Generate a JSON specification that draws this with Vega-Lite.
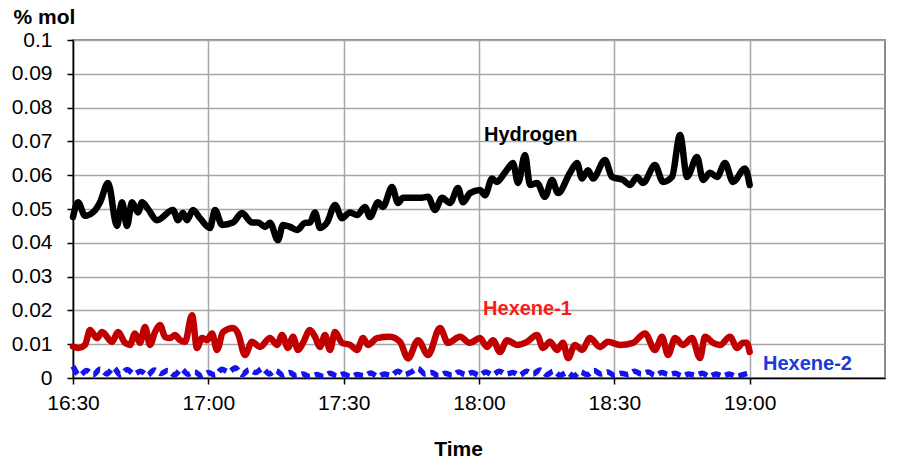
{
  "$schema": "https://vega.github.io/schema/vega-lite/v6.json",
  "width": 812,
  "height": 338,
  "autosize": {"type": "none"},
  "padding": {"left": 73, "top": 40, "right": 22, "bottom": 84},
  "background": "white",
  "config": {
    "font": "Liberation Sans",
    "view": {"stroke": "#8c8c8c", "strokeWidth": 2},
    "axis": {"labelFont": "Liberation Sans", "titleFont": "Liberation Sans"}
  },
  "datasets": {
    "series": [
      {"series": "Hydrogen", "time": "2000-01-01T16:30:00", "value": 0.0476},
      {"series": "Hydrogen", "time": "2000-01-01T16:31:07", "value": 0.052},
      {"series": "Hydrogen", "time": "2000-01-01T16:32:40", "value": 0.048},
      {"series": "Hydrogen", "time": "2000-01-01T16:34:26", "value": 0.049},
      {"series": "Hydrogen", "time": "2000-01-01T16:36:00", "value": 0.052},
      {"series": "Hydrogen", "time": "2000-01-01T16:37:46", "value": 0.0577},
      {"series": "Hydrogen", "time": "2000-01-01T16:39:45", "value": 0.045},
      {"series": "Hydrogen", "time": "2000-01-01T16:40:52", "value": 0.052},
      {"series": "Hydrogen", "time": "2000-01-01T16:41:58", "value": 0.045},
      {"series": "Hydrogen", "time": "2000-01-01T16:43:05", "value": 0.052},
      {"series": "Hydrogen", "time": "2000-01-01T16:44:25", "value": 0.049},
      {"series": "Hydrogen", "time": "2000-01-01T16:45:18", "value": 0.052},
      {"series": "Hydrogen", "time": "2000-01-01T16:46:38", "value": 0.050},
      {"series": "Hydrogen", "time": "2000-01-01T16:48:37", "value": 0.0467},
      {"series": "Hydrogen", "time": "2000-01-01T16:52:10", "value": 0.0497},
      {"series": "Hydrogen", "time": "2000-01-01T16:53:17", "value": 0.0467},
      {"series": "Hydrogen", "time": "2000-01-01T16:54:23", "value": 0.0488},
      {"series": "Hydrogen", "time": "2000-01-01T16:55:16", "value": 0.0467},
      {"series": "Hydrogen", "time": "2000-01-01T16:56:36", "value": 0.0497},
      {"series": "Hydrogen", "time": "2000-01-01T16:58:09", "value": 0.0473},
      {"series": "Hydrogen", "time": "2000-01-01T17:00:22", "value": 0.0444},
      {"series": "Hydrogen", "time": "2000-01-01T17:01:29", "value": 0.0497},
      {"series": "Hydrogen", "time": "2000-01-01T17:03:02", "value": 0.0453},
      {"series": "Hydrogen", "time": "2000-01-01T17:05:28", "value": 0.046},
      {"series": "Hydrogen", "time": "2000-01-01T17:07:28", "value": 0.0488},
      {"series": "Hydrogen", "time": "2000-01-01T17:09:41", "value": 0.046},
      {"series": "Hydrogen", "time": "2000-01-01T17:11:01", "value": 0.046},
      {"series": "Hydrogen", "time": "2000-01-01T17:12:34", "value": 0.0447},
      {"series": "Hydrogen", "time": "2000-01-01T17:13:40", "value": 0.0459},
      {"series": "Hydrogen", "time": "2000-01-01T17:15:26", "value": 0.0408},
      {"series": "Hydrogen", "time": "2000-01-01T17:16:33", "value": 0.0453},
      {"series": "Hydrogen", "time": "2000-01-01T17:18:06", "value": 0.0447},
      {"series": "Hydrogen", "time": "2000-01-01T17:19:40", "value": 0.0438},
      {"series": "Hydrogen", "time": "2000-01-01T17:21:26", "value": 0.0459},
      {"series": "Hydrogen", "time": "2000-01-01T17:22:32", "value": 0.046},
      {"series": "Hydrogen", "time": "2000-01-01T17:23:39", "value": 0.049},
      {"series": "Hydrogen", "time": "2000-01-01T17:24:45", "value": 0.0444},
      {"series": "Hydrogen", "time": "2000-01-01T17:26:19", "value": 0.046},
      {"series": "Hydrogen", "time": "2000-01-01T17:28:05", "value": 0.0512},
      {"series": "Hydrogen", "time": "2000-01-01T17:29:38", "value": 0.0473},
      {"series": "Hydrogen", "time": "2000-01-01T17:31:24", "value": 0.049},
      {"series": "Hydrogen", "time": "2000-01-01T17:32:58", "value": 0.0482},
      {"series": "Hydrogen", "time": "2000-01-01T17:34:44", "value": 0.0506},
      {"series": "Hydrogen", "time": "2000-01-01T17:35:50", "value": 0.0476},
      {"series": "Hydrogen", "time": "2000-01-01T17:37:37", "value": 0.052},
      {"series": "Hydrogen", "time": "2000-01-01T17:38:43", "value": 0.0506},
      {"series": "Hydrogen", "time": "2000-01-01T17:40:43", "value": 0.0565},
      {"series": "Hydrogen", "time": "2000-01-01T17:42:03", "value": 0.0518},
      {"series": "Hydrogen", "time": "2000-01-01T17:43:09", "value": 0.0533},
      {"series": "Hydrogen", "time": "2000-01-01T17:46:55", "value": 0.0533},
      {"series": "Hydrogen", "time": "2000-01-01T17:48:42", "value": 0.0536},
      {"series": "Hydrogen", "time": "2000-01-01T17:50:15", "value": 0.0497},
      {"series": "Hydrogen", "time": "2000-01-01T17:51:48", "value": 0.0533},
      {"series": "Hydrogen", "time": "2000-01-01T17:53:34", "value": 0.0518},
      {"series": "Hydrogen", "time": "2000-01-01T17:55:21", "value": 0.0562},
      {"series": "Hydrogen", "time": "2000-01-01T17:56:27", "value": 0.052},
      {"series": "Hydrogen", "time": "2000-01-01T17:58:00", "value": 0.0547},
      {"series": "Hydrogen", "time": "2000-01-01T18:00:13", "value": 0.0556},
      {"series": "Hydrogen", "time": "2000-01-01T18:01:20", "value": 0.0541},
      {"series": "Hydrogen", "time": "2000-01-01T18:02:53", "value": 0.059},
      {"series": "Hydrogen", "time": "2000-01-01T18:03:59", "value": 0.058},
      {"series": "Hydrogen", "time": "2000-01-01T18:05:19", "value": 0.060},
      {"series": "Hydrogen", "time": "2000-01-01T18:06:26", "value": 0.062},
      {"series": "Hydrogen", "time": "2000-01-01T18:07:32", "value": 0.0636},
      {"series": "Hydrogen", "time": "2000-01-01T18:08:39", "value": 0.0577},
      {"series": "Hydrogen", "time": "2000-01-01T18:10:12", "value": 0.066},
      {"series": "Hydrogen", "time": "2000-01-01T18:11:19", "value": 0.0571},
      {"series": "Hydrogen", "time": "2000-01-01T18:12:52", "value": 0.0577},
      {"series": "Hydrogen", "time": "2000-01-01T18:14:38", "value": 0.0536},
      {"series": "Hydrogen", "time": "2000-01-01T18:16:11", "value": 0.0586},
      {"series": "Hydrogen", "time": "2000-01-01T18:17:31", "value": 0.0547},
      {"series": "Hydrogen", "time": "2000-01-01T18:20:10", "value": 0.0607},
      {"series": "Hydrogen", "time": "2000-01-01T18:21:44", "value": 0.0636},
      {"series": "Hydrogen", "time": "2000-01-01T18:22:50", "value": 0.059},
      {"series": "Hydrogen", "time": "2000-01-01T18:24:10", "value": 0.0615},
      {"series": "Hydrogen", "time": "2000-01-01T18:25:16", "value": 0.059},
      {"series": "Hydrogen", "time": "2000-01-01T18:27:56", "value": 0.0645},
      {"series": "Hydrogen", "time": "2000-01-01T18:29:29", "value": 0.0595},
      {"series": "Hydrogen", "time": "2000-01-01T18:31:55", "value": 0.0586},
      {"series": "Hydrogen", "time": "2000-01-01T18:33:29", "value": 0.0571},
      {"series": "Hydrogen", "time": "2000-01-01T18:35:02", "value": 0.0595},
      {"series": "Hydrogen", "time": "2000-01-01T18:36:22", "value": 0.0577},
      {"series": "Hydrogen", "time": "2000-01-01T18:39:01", "value": 0.063},
      {"series": "Hydrogen", "time": "2000-01-01T18:40:47", "value": 0.058},
      {"series": "Hydrogen", "time": "2000-01-01T18:42:47", "value": 0.0595},
      {"series": "Hydrogen", "time": "2000-01-01T18:44:34", "value": 0.0719},
      {"series": "Hydrogen", "time": "2000-01-01T18:46:07", "value": 0.0595},
      {"series": "Hydrogen", "time": "2000-01-01T18:48:20", "value": 0.0654},
      {"series": "Hydrogen", "time": "2000-01-01T18:49:40", "value": 0.0586},
      {"series": "Hydrogen", "time": "2000-01-01T18:51:13", "value": 0.0607},
      {"series": "Hydrogen", "time": "2000-01-01T18:52:46", "value": 0.0595},
      {"series": "Hydrogen", "time": "2000-01-01T18:54:32", "value": 0.0636},
      {"series": "Hydrogen", "time": "2000-01-01T18:56:19", "value": 0.058},
      {"series": "Hydrogen", "time": "2000-01-01T18:58:58", "value": 0.062},
      {"series": "Hydrogen", "time": "2000-01-01T19:00:00", "value": 0.0571},

      {"series": "Hexene-1", "time": "2000-01-01T16:30:00", "value": 0.0093},
      {"series": "Hexene-1", "time": "2000-01-01T16:31:07", "value": 0.0089},
      {"series": "Hexene-1", "time": "2000-01-01T16:32:40", "value": 0.0098},
      {"series": "Hexene-1", "time": "2000-01-01T16:33:46", "value": 0.0142},
      {"series": "Hexene-1", "time": "2000-01-01T16:35:19", "value": 0.0118},
      {"series": "Hexene-1", "time": "2000-01-01T16:36:26", "value": 0.0136},
      {"series": "Hexene-1", "time": "2000-01-01T16:38:39", "value": 0.0107},
      {"series": "Hexene-1", "time": "2000-01-01T16:39:59", "value": 0.0136},
      {"series": "Hexene-1", "time": "2000-01-01T16:41:32", "value": 0.0104},
      {"series": "Hexene-1", "time": "2000-01-01T16:42:38", "value": 0.0098},
      {"series": "Hexene-1", "time": "2000-01-01T16:43:44", "value": 0.0132},
      {"series": "Hexene-1", "time": "2000-01-01T16:44:51", "value": 0.0104},
      {"series": "Hexene-1", "time": "2000-01-01T16:45:58", "value": 0.0151},
      {"series": "Hexene-1", "time": "2000-01-01T16:47:04", "value": 0.0098},
      {"series": "Hexene-1", "time": "2000-01-01T16:48:11", "value": 0.0136},
      {"series": "Hexene-1", "time": "2000-01-01T16:49:17", "value": 0.0157},
      {"series": "Hexene-1", "time": "2000-01-01T16:50:23", "value": 0.0122},
      {"series": "Hexene-1", "time": "2000-01-01T16:51:30", "value": 0.0118},
      {"series": "Hexene-1", "time": "2000-01-01T16:52:37", "value": 0.0127},
      {"series": "Hexene-1", "time": "2000-01-01T16:53:43", "value": 0.0112},
      {"series": "Hexene-1", "time": "2000-01-01T16:54:50", "value": 0.0107},
      {"series": "Hexene-1", "time": "2000-01-01T16:56:23", "value": 0.0186},
      {"series": "Hexene-1", "time": "2000-01-01T16:57:29", "value": 0.0089},
      {"series": "Hexene-1", "time": "2000-01-01T16:58:36", "value": 0.0118},
      {"series": "Hexene-1", "time": "2000-01-01T16:59:42", "value": 0.0112},
      {"series": "Hexene-1", "time": "2000-01-01T17:00:49", "value": 0.0132},
      {"series": "Hexene-1", "time": "2000-01-01T17:01:55", "value": 0.0083},
      {"series": "Hexene-1", "time": "2000-01-01T17:03:15", "value": 0.0136},
      {"series": "Hexene-1", "time": "2000-01-01T17:05:28", "value": 0.0148},
      {"series": "Hexene-1", "time": "2000-01-01T17:06:35", "value": 0.0132},
      {"series": "Hexene-1", "time": "2000-01-01T17:08:08", "value": 0.0068},
      {"series": "Hexene-1", "time": "2000-01-01T17:09:41", "value": 0.0107},
      {"series": "Hexene-1", "time": "2000-01-01T17:11:27", "value": 0.0092},
      {"series": "Hexene-1", "time": "2000-01-01T17:13:40", "value": 0.0118},
      {"series": "Hexene-1", "time": "2000-01-01T17:15:13", "value": 0.0098},
      {"series": "Hexene-1", "time": "2000-01-01T17:16:20", "value": 0.0127},
      {"series": "Hexene-1", "time": "2000-01-01T17:17:40", "value": 0.0089},
      {"series": "Hexene-1", "time": "2000-01-01T17:18:46", "value": 0.0122},
      {"series": "Hexene-1", "time": "2000-01-01T17:19:53", "value": 0.0083},
      {"series": "Hexene-1", "time": "2000-01-01T17:20:59", "value": 0.0104},
      {"series": "Hexene-1", "time": "2000-01-01T17:22:32", "value": 0.0142},
      {"series": "Hexene-1", "time": "2000-01-01T17:23:39", "value": 0.0122},
      {"series": "Hexene-1", "time": "2000-01-01T17:24:45", "value": 0.0092},
      {"series": "Hexene-1", "time": "2000-01-01T17:25:52", "value": 0.0127},
      {"series": "Hexene-1", "time": "2000-01-01T17:26:58", "value": 0.0083},
      {"series": "Hexene-1", "time": "2000-01-01T17:28:05", "value": 0.0136},
      {"series": "Hexene-1", "time": "2000-01-01T17:29:38", "value": 0.0104},
      {"series": "Hexene-1", "time": "2000-01-01T17:31:24", "value": 0.0098},
      {"series": "Hexene-1", "time": "2000-01-01T17:32:58", "value": 0.0083},
      {"series": "Hexene-1", "time": "2000-01-01T17:34:17", "value": 0.0118},
      {"series": "Hexene-1", "time": "2000-01-01T17:35:24", "value": 0.0098},
      {"series": "Hexene-1", "time": "2000-01-01T17:37:23", "value": 0.0118},
      {"series": "Hexene-1", "time": "2000-01-01T17:40:16", "value": 0.0122},
      {"series": "Hexene-1", "time": "2000-01-01T17:42:29", "value": 0.0107},
      {"series": "Hexene-1", "time": "2000-01-01T17:44:16", "value": 0.0058},
      {"series": "Hexene-1", "time": "2000-01-01T17:46:29", "value": 0.0112},
      {"series": "Hexene-1", "time": "2000-01-01T17:48:42", "value": 0.0068},
      {"series": "Hexene-1", "time": "2000-01-01T17:51:21", "value": 0.0148},
      {"series": "Hexene-1", "time": "2000-01-01T17:53:08", "value": 0.0104},
      {"series": "Hexene-1", "time": "2000-01-01T17:55:47", "value": 0.0122},
      {"series": "Hexene-1", "time": "2000-01-01T17:58:00", "value": 0.0104},
      {"series": "Hexene-1", "time": "2000-01-01T18:00:13", "value": 0.0118},
      {"series": "Hexene-1", "time": "2000-01-01T18:01:46", "value": 0.0092},
      {"series": "Hexene-1", "time": "2000-01-01T18:03:06", "value": 0.0112},
      {"series": "Hexene-1", "time": "2000-01-01T18:04:39", "value": 0.0077},
      {"series": "Hexene-1", "time": "2000-01-01T18:06:13", "value": 0.0112},
      {"series": "Hexene-1", "time": "2000-01-01T18:08:26", "value": 0.0098},
      {"series": "Hexene-1", "time": "2000-01-01T18:10:39", "value": 0.0107},
      {"series": "Hexene-1", "time": "2000-01-01T18:12:52", "value": 0.0127},
      {"series": "Hexene-1", "time": "2000-01-01T18:14:11", "value": 0.0089},
      {"series": "Hexene-1", "time": "2000-01-01T18:15:45", "value": 0.0107},
      {"series": "Hexene-1", "time": "2000-01-01T18:17:18", "value": 0.0083},
      {"series": "Hexene-1", "time": "2000-01-01T18:18:37", "value": 0.0104},
      {"series": "Hexene-1", "time": "2000-01-01T18:19:44", "value": 0.0059},
      {"series": "Hexene-1", "time": "2000-01-01T18:21:17", "value": 0.0098},
      {"series": "Hexene-1", "time": "2000-01-01T18:22:50", "value": 0.0083},
      {"series": "Hexene-1", "time": "2000-01-01T18:24:37", "value": 0.0118},
      {"series": "Hexene-1", "time": "2000-01-01T18:26:49", "value": 0.0092},
      {"series": "Hexene-1", "time": "2000-01-01T18:28:36", "value": 0.0107},
      {"series": "Hexene-1", "time": "2000-01-01T18:31:16", "value": 0.0098},
      {"series": "Hexene-1", "time": "2000-01-01T18:34:08", "value": 0.0104},
      {"series": "Hexene-1", "time": "2000-01-01T18:36:48", "value": 0.0132},
      {"series": "Hexene-1", "time": "2000-01-01T18:39:01", "value": 0.0083},
      {"series": "Hexene-1", "time": "2000-01-01T18:40:34", "value": 0.0122},
      {"series": "Hexene-1", "time": "2000-01-01T18:41:54", "value": 0.0068},
      {"series": "Hexene-1", "time": "2000-01-01T18:43:27", "value": 0.0118},
      {"series": "Hexene-1", "time": "2000-01-01T18:45:13", "value": 0.0098},
      {"series": "Hexene-1", "time": "2000-01-01T18:47:13", "value": 0.0118},
      {"series": "Hexene-1", "time": "2000-01-01T18:48:59", "value": 0.0059},
      {"series": "Hexene-1", "time": "2000-01-01T18:50:06", "value": 0.0122},
      {"series": "Hexene-1", "time": "2000-01-01T18:51:53", "value": 0.0104},
      {"series": "Hexene-1", "time": "2000-01-01T18:53:26", "value": 0.0098},
      {"series": "Hexene-1", "time": "2000-01-01T18:55:39", "value": 0.0122},
      {"series": "Hexene-1", "time": "2000-01-01T18:57:12", "value": 0.0089},
      {"series": "Hexene-1", "time": "2000-01-01T18:58:32", "value": 0.0104},
      {"series": "Hexene-1", "time": "2000-01-01T18:59:20", "value": 0.0104},
      {"series": "Hexene-1", "time": "2000-01-01T19:00:00", "value": 0.0077},

      {"series": "Hexene-2", "time": "2000-01-01T16:30:00", "value": 0.0035},
      {"series": "Hexene-2", "time": "2000-01-01T16:31:30", "value": 0.0008},
      {"series": "Hexene-2", "time": "2000-01-01T16:33:00", "value": 0.0022},
      {"series": "Hexene-2", "time": "2000-01-01T16:34:30", "value": 0.0010},
      {"series": "Hexene-2", "time": "2000-01-01T16:36:00", "value": 0.0026},
      {"series": "Hexene-2", "time": "2000-01-01T16:37:30", "value": 0.0012},
      {"series": "Hexene-2", "time": "2000-01-01T16:39:00", "value": 0.0030},
      {"series": "Hexene-2", "time": "2000-01-01T16:40:30", "value": 0.0009},
      {"series": "Hexene-2", "time": "2000-01-01T16:42:00", "value": 0.0025},
      {"series": "Hexene-2", "time": "2000-01-01T16:43:30", "value": 0.0012},
      {"series": "Hexene-2", "time": "2000-01-01T16:45:00", "value": 0.0020},
      {"series": "Hexene-2", "time": "2000-01-01T16:46:30", "value": 0.0008},
      {"series": "Hexene-2", "time": "2000-01-01T16:48:00", "value": 0.0024},
      {"series": "Hexene-2", "time": "2000-01-01T16:49:30", "value": 0.0013},
      {"series": "Hexene-2", "time": "2000-01-01T16:51:00", "value": 0.0022},
      {"series": "Hexene-2", "time": "2000-01-01T16:52:30", "value": 0.0009},
      {"series": "Hexene-2", "time": "2000-01-01T16:54:00", "value": 0.0026},
      {"series": "Hexene-2", "time": "2000-01-01T16:55:30", "value": 0.0011},
      {"series": "Hexene-2", "time": "2000-01-01T16:57:00", "value": 0.0018},
      {"series": "Hexene-2", "time": "2000-01-01T16:58:30", "value": 0.0006},
      {"series": "Hexene-2", "time": "2000-01-01T17:00:00", "value": 0.0016},
      {"series": "Hexene-2", "time": "2000-01-01T17:01:30", "value": 0.0008},
      {"series": "Hexene-2", "time": "2000-01-01T17:03:00", "value": 0.0026},
      {"series": "Hexene-2", "time": "2000-01-01T17:04:30", "value": 0.0018},
      {"series": "Hexene-2", "time": "2000-01-01T17:06:00", "value": 0.0030},
      {"series": "Hexene-2", "time": "2000-01-01T17:07:30", "value": 0.0010},
      {"series": "Hexene-2", "time": "2000-01-01T17:09:00", "value": 0.0024},
      {"series": "Hexene-2", "time": "2000-01-01T17:10:30", "value": 0.0016},
      {"series": "Hexene-2", "time": "2000-01-01T17:12:00", "value": 0.0028},
      {"series": "Hexene-2", "time": "2000-01-01T17:13:30", "value": 0.0012},
      {"series": "Hexene-2", "time": "2000-01-01T17:15:00", "value": 0.0022},
      {"series": "Hexene-2", "time": "2000-01-01T17:16:30", "value": 0.0008},
      {"series": "Hexene-2", "time": "2000-01-01T17:18:00", "value": 0.0016},
      {"series": "Hexene-2", "time": "2000-01-01T17:19:30", "value": 0.0006},
      {"series": "Hexene-2", "time": "2000-01-01T17:21:00", "value": 0.0012},
      {"series": "Hexene-2", "time": "2000-01-01T17:22:30", "value": 0.0004},
      {"series": "Hexene-2", "time": "2000-01-01T17:24:00", "value": 0.0010},
      {"series": "Hexene-2", "time": "2000-01-01T17:25:30", "value": 0.0005},
      {"series": "Hexene-2", "time": "2000-01-01T17:27:00", "value": 0.0014},
      {"series": "Hexene-2", "time": "2000-01-01T17:28:30", "value": 0.0006},
      {"series": "Hexene-2", "time": "2000-01-01T17:30:00", "value": 0.0012},
      {"series": "Hexene-2", "time": "2000-01-01T17:31:30", "value": 0.0004},
      {"series": "Hexene-2", "time": "2000-01-01T17:33:00", "value": 0.0010},
      {"series": "Hexene-2", "time": "2000-01-01T17:34:30", "value": 0.0007},
      {"series": "Hexene-2", "time": "2000-01-01T17:36:00", "value": 0.0015},
      {"series": "Hexene-2", "time": "2000-01-01T17:37:30", "value": 0.0005},
      {"series": "Hexene-2", "time": "2000-01-01T17:39:00", "value": 0.0012},
      {"series": "Hexene-2", "time": "2000-01-01T17:40:30", "value": 0.0008},
      {"series": "Hexene-2", "time": "2000-01-01T17:42:00", "value": 0.0020},
      {"series": "Hexene-2", "time": "2000-01-01T17:43:30", "value": 0.0010},
      {"series": "Hexene-2", "time": "2000-01-01T17:45:00", "value": 0.0018},
      {"series": "Hexene-2", "time": "2000-01-01T17:46:30", "value": 0.0028},
      {"series": "Hexene-2", "time": "2000-01-01T17:48:00", "value": 0.0012},
      {"series": "Hexene-2", "time": "2000-01-01T17:49:30", "value": 0.0016},
      {"series": "Hexene-2", "time": "2000-01-01T17:51:00", "value": 0.0006},
      {"series": "Hexene-2", "time": "2000-01-01T17:52:30", "value": 0.0014},
      {"series": "Hexene-2", "time": "2000-01-01T17:54:00", "value": 0.0008},
      {"series": "Hexene-2", "time": "2000-01-01T17:55:30", "value": 0.0018},
      {"series": "Hexene-2", "time": "2000-01-01T17:57:00", "value": 0.0010},
      {"series": "Hexene-2", "time": "2000-01-01T17:58:30", "value": 0.0016},
      {"series": "Hexene-2", "time": "2000-01-01T18:00:00", "value": 0.0008},
      {"series": "Hexene-2", "time": "2000-01-01T18:01:30", "value": 0.0018},
      {"series": "Hexene-2", "time": "2000-01-01T18:03:00", "value": 0.0010},
      {"series": "Hexene-2", "time": "2000-01-01T18:04:30", "value": 0.0020},
      {"series": "Hexene-2", "time": "2000-01-01T18:06:00", "value": 0.0012},
      {"series": "Hexene-2", "time": "2000-01-01T18:07:30", "value": 0.0016},
      {"series": "Hexene-2", "time": "2000-01-01T18:09:00", "value": 0.0008},
      {"series": "Hexene-2", "time": "2000-01-01T18:10:30", "value": 0.0020},
      {"series": "Hexene-2", "time": "2000-01-01T18:12:00", "value": 0.0012},
      {"series": "Hexene-2", "time": "2000-01-01T18:13:30", "value": 0.0024},
      {"series": "Hexene-2", "time": "2000-01-01T18:15:00", "value": 0.0010},
      {"series": "Hexene-2", "time": "2000-01-01T18:16:30", "value": 0.0020},
      {"series": "Hexene-2", "time": "2000-01-01T18:18:00", "value": 0.0008},
      {"series": "Hexene-2", "time": "2000-01-01T18:19:30", "value": 0.0016},
      {"series": "Hexene-2", "time": "2000-01-01T18:21:00", "value": 0.0006},
      {"series": "Hexene-2", "time": "2000-01-01T18:22:30", "value": 0.0018},
      {"series": "Hexene-2", "time": "2000-01-01T18:24:00", "value": 0.0010},
      {"series": "Hexene-2", "time": "2000-01-01T18:25:30", "value": 0.0022},
      {"series": "Hexene-2", "time": "2000-01-01T18:27:00", "value": 0.0012},
      {"series": "Hexene-2", "time": "2000-01-01T18:28:30", "value": 0.0018},
      {"series": "Hexene-2", "time": "2000-01-01T18:30:00", "value": 0.0008},
      {"series": "Hexene-2", "time": "2000-01-01T18:31:30", "value": 0.0014},
      {"series": "Hexene-2", "time": "2000-01-01T18:33:00", "value": 0.0010},
      {"series": "Hexene-2", "time": "2000-01-01T18:34:30", "value": 0.0020},
      {"series": "Hexene-2", "time": "2000-01-01T18:36:00", "value": 0.0012},
      {"series": "Hexene-2", "time": "2000-01-01T18:37:30", "value": 0.0018},
      {"series": "Hexene-2", "time": "2000-01-01T18:39:00", "value": 0.0008},
      {"series": "Hexene-2", "time": "2000-01-01T18:40:30", "value": 0.0016},
      {"series": "Hexene-2", "time": "2000-01-01T18:42:00", "value": 0.0010},
      {"series": "Hexene-2", "time": "2000-01-01T18:43:30", "value": 0.0014},
      {"series": "Hexene-2", "time": "2000-01-01T18:45:00", "value": 0.0006},
      {"series": "Hexene-2", "time": "2000-01-01T18:46:30", "value": 0.0012},
      {"series": "Hexene-2", "time": "2000-01-01T18:48:00", "value": 0.0008},
      {"series": "Hexene-2", "time": "2000-01-01T18:49:30", "value": 0.0014},
      {"series": "Hexene-2", "time": "2000-01-01T18:51:00", "value": 0.0005},
      {"series": "Hexene-2", "time": "2000-01-01T18:52:30", "value": 0.0012},
      {"series": "Hexene-2", "time": "2000-01-01T18:54:00", "value": 0.0006},
      {"series": "Hexene-2", "time": "2000-01-01T18:55:30", "value": 0.0012},
      {"series": "Hexene-2", "time": "2000-01-01T18:57:00", "value": 0.0005},
      {"series": "Hexene-2", "time": "2000-01-01T18:58:30", "value": 0.0010},
      {"series": "Hexene-2", "time": "2000-01-01T19:00:00", "value": 0.0015}
    ],
    "labels": [
      {"label": "Hydrogen", "time": "2000-01-01T18:01:07", "value": 0.0701},
      {"label": "Hexene-1", "time": "2000-01-01T18:00:54", "value": 0.0186},
      {"label": "Hexene-2", "time": "2000-01-01T19:02:58", "value": 0.0024}
    ]
  },
  "encoding": {
    "x": {
      "field": "time",
      "type": "temporal",
      "scale": {
        "domain": [
          {"year": 2000, "month": 1, "date": 1, "hours": 16, "minutes": 30},
          {"year": 2000, "month": 1, "date": 1, "hours": 19, "minutes": 30}
        ]
      },
      "axis": {
        "values": [
          {"year": 2000, "month": 1, "date": 1, "hours": 16, "minutes": 30},
          {"year": 2000, "month": 1, "date": 1, "hours": 17, "minutes": 0},
          {"year": 2000, "month": 1, "date": 1, "hours": 17, "minutes": 30},
          {"year": 2000, "month": 1, "date": 1, "hours": 18, "minutes": 0},
          {"year": 2000, "month": 1, "date": 1, "hours": 18, "minutes": 30},
          {"year": 2000, "month": 1, "date": 1, "hours": 19, "minutes": 0}
        ],
        "format": "%H:%M",
        "title": "Time",
        "titleFontSize": 21,
        "titleFontWeight": "bold",
        "titleColor": "black",
        "titleX": 385,
        "titleY": 77,
        "titleBaseline": "alphabetic",
        "titleAnchor": null,
        "titleAlign": "center",
        "labelFontSize": 21,
        "labelColor": "black",
        "labelPadding": 8,
        "labelFlush": false,
        "labelOverlap": false,
        "domainColor": "black",
        "domainWidth": 1.5,
        "tickColor": "black",
        "tickSize": 6,
        "tickWidth": 1.5,
        "grid": true,
        "gridColor": "#a6a6a6",
        "gridWidth": 1.5
      }
    },
    "y": {
      "field": "value",
      "type": "quantitative",
      "scale": {"domain": [0, 0.1], "nice": false},
      "axis": {
        "values": [0, 0.01, 0.02, 0.03, 0.04, 0.05, 0.06, 0.07, 0.08, 0.09, 0.1],
        "format": ".2~f",
        "title": "% mol",
        "titleAngle": 0,
        "titleFontSize": 21,
        "titleFontWeight": "bold",
        "titleColor": "black",
        "titleX": -60,
        "titleY": -17,
        "titleAlign": "left",
        "titleBaseline": "alphabetic",
        "titleAnchor": null,
        "labelFontSize": 21,
        "labelColor": "black",
        "labelPadding": 15,
        "labelFlush": false,
        "labelOverlap": false,
        "domainColor": "black",
        "domainWidth": 1.5,
        "tickColor": "black",
        "tickSize": 6,
        "tickWidth": 1.5,
        "grid": true,
        "gridColor": "#a6a6a6",
        "gridWidth": 1.5
      }
    }
  },
  "layer": [
    {
      "data": {"name": "series"},
      "transform": [{"filter": "datum.series === 'Hexene-2'"}],
      "mark": {"type": "line", "color": "#1414f0", "strokeWidth": 5.5, "strokeDash": [9, 5], "interpolate": "monotone", "strokeCap": "butt"}
    },
    {
      "data": {"name": "series"},
      "transform": [{"filter": "datum.series === 'Hexene-1'"}],
      "mark": {"type": "line", "color": "#c00000", "strokeWidth": 6.5, "interpolate": "monotone", "strokeJoin": "round", "strokeCap": "round"}
    },
    {
      "data": {"name": "series"},
      "transform": [{"filter": "datum.series === 'Hydrogen'"}],
      "mark": {"type": "line", "color": "black", "strokeWidth": 6.5, "interpolate": "monotone", "strokeJoin": "round", "strokeCap": "round"}
    },
    {
      "data": {"name": "labels"},
      "transform": [{"filter": "datum.label === 'Hydrogen'"}],
      "mark": {"type": "text", "align": "left", "baseline": "alphabetic", "fontSize": 20, "fontWeight": "bold", "color": "black"},
      "encoding": {"text": {"field": "label"}}
    },
    {
      "data": {"name": "labels"},
      "transform": [{"filter": "datum.label === 'Hexene-1'"}],
      "mark": {"type": "text", "align": "left", "baseline": "alphabetic", "fontSize": 20, "fontWeight": "bold", "color": "#ff1a1a"},
      "encoding": {"text": {"field": "label"}}
    },
    {
      "data": {"name": "labels"},
      "transform": [{"filter": "datum.label === 'Hexene-2'"}],
      "mark": {"type": "text", "align": "left", "baseline": "alphabetic", "fontSize": 20, "fontWeight": "bold", "color": "#1a3ad8"},
      "encoding": {"text": {"field": "label"}}
    }
  ]
}
